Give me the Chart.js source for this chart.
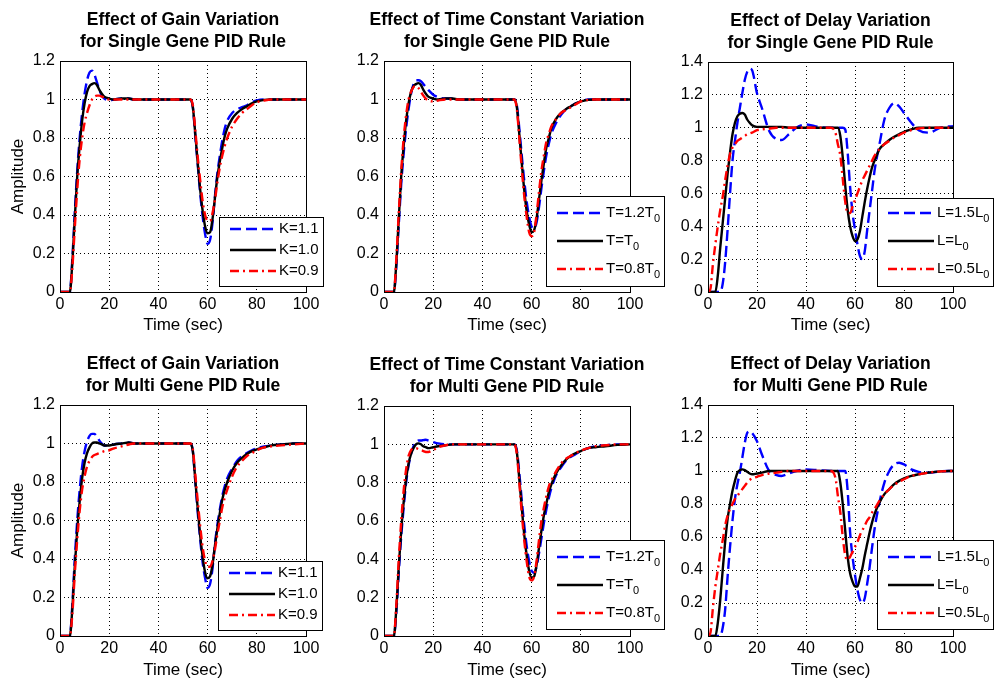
<!DOCTYPE html>
<html>
<head>
<meta charset="utf-8">
<script src="https://cdn.jsdelivr.net/npm/chart.js@4.4.1/dist/chart.umd.min.js"></script>
<style>
  html, body { margin: 0; padding: 0; background: #fff; overflow: hidden; }
  #wrap { position: relative; width: 995px; height: 681px; }
  #wrap canvas { position: absolute; }
</style>
</head>
<body>
<div id="wrap"></div>
<script>
// time base shared by every curve (sec)
const time = [0,1,2,3,4,5,6,7,8,9,10,11,12,13,14,15,16,17,18,20,22,25,28,30,33,36,40,45,50,
  52,53,54,55,56,57,58,59,60,61,62,63,64,65,66,67,68,70,72,74,76,78,80,83,86,90,95,100];

// --- single gene PID rule ---
const gainSingleK11 = [0,0,0,0,0,0.17,0.41,0.63,0.8,0.93,1.03,1.1,1.14,1.15,1.13,1.09,1.05,1.02,1.005,
  0.995,1,1.005,1.005,1,1,1,1,1,1,
  1,1,0.96,0.81,0.66,0.51,0.39,0.3,0.25,0.27,0.36,0.5,0.62,0.71,0.79,0.85,0.89,
  0.93,0.95,0.96,0.97,0.985,0.995,1,1,1,1,1];
const gainSingleK10 = [0,0,0,0,0,0.15,0.38,0.6,0.76,0.89,0.98,1.04,1.07,1.08,1.085,1.075,1.05,1.03,1.015,
  1.005,1,1.005,1.005,1,1,1,1,1,1,
  1,1,0.96,0.82,0.67,0.53,0.42,0.34,0.305,0.31,0.38,0.49,0.6,0.68,0.75,0.81,0.85,
  0.9,0.93,0.95,0.965,0.98,0.99,0.998,1,1,1,1];
const gainSingleK09 = [0,0,0,0,0,0.12,0.33,0.53,0.69,0.8,0.88,0.93,0.97,1,1.015,1.02,1.02,1.015,1.01,
  1,1,1,1,1,1,1,1,1,1,
  1,1,0.97,0.84,0.7,0.58,0.47,0.4,0.37,0.37,0.41,0.48,0.57,0.65,0.71,0.76,0.8,
  0.86,0.9,0.93,0.95,0.97,0.985,0.995,1,1,1,1];

const tcSingleT12 = [0,0,0,0,0,0.13,0.35,0.56,0.72,0.85,0.95,1.03,1.08,1.1,1.1,1.095,1.08,1.065,1.05,
  1.025,1.012,1.005,1.005,1,1,1,1,1,1,
  1,1,0.97,0.85,0.71,0.58,0.47,0.39,0.34,0.33,0.36,0.44,0.54,0.63,0.71,0.77,0.82,
  0.88,0.92,0.95,0.965,0.98,0.99,1,1,1,1,1];
const tcSingleT10 = [0,0,0,0,0,0.15,0.38,0.6,0.76,0.89,0.98,1.04,1.07,1.08,1.085,1.075,1.05,1.03,1.015,
  1.005,1,1.005,1.005,1,1,1,1,1,1,
  1,1,0.96,0.82,0.67,0.53,0.42,0.35,0.31,0.32,0.38,0.48,0.58,0.67,0.75,0.8,0.85,
  0.9,0.93,0.95,0.965,0.98,0.99,0.998,1,1,1,1];
const tcSingleT08 = [0,0,0,0,0,0.17,0.41,0.63,0.8,0.92,1,1.04,1.065,1.07,1.06,1.04,1.02,1.005,0.995,
  0.99,0.995,1,1,1,1,1,1,1,1,
  1,1,0.95,0.8,0.64,0.5,0.39,0.31,0.29,0.31,0.4,0.52,0.63,0.71,0.78,0.82,0.86,
  0.9,0.93,0.945,0.96,0.975,0.99,0.998,1,1,1,1];

const delaySingleL15 = [0,0,0,0,0,0,0.05,0.18,0.38,0.6,0.8,0.92,1.03,1.12,1.21,1.29,1.34,1.36,1.35,
  1.21,1.12,0.98,0.93,0.925,0.96,1,1.02,1.005,1,
  1,1,1,1,0.99,0.85,0.64,0.48,0.38,0.29,0.22,0.2,0.25,0.38,0.5,0.62,0.74,
  0.9,1.05,1.12,1.15,1.13,1.09,1.03,0.985,0.97,1,1.01];
const delaySingleL10 = [0,0,0,0,0.1,0.27,0.42,0.57,0.72,0.85,0.96,1.03,1.07,1.085,1.09,1.08,1.05,1.03,1.015,
  1.005,1.005,1.005,1.005,1.005,1,1,1,1,1,
  1,1,0.95,0.82,0.65,0.5,0.4,0.34,0.31,0.32,0.37,0.46,0.55,0.63,0.7,0.76,0.8,
  0.87,0.9,0.925,0.945,0.96,0.975,0.99,1,1,1,1];
const delaySingleL05 = [0,0.02,0.17,0.29,0.4,0.5,0.58,0.68,0.77,0.84,0.88,0.9,0.92,0.93,0.94,0.95,0.96,0.965,0.97,
  0.985,0.99,0.995,1,1,1,1,1,1,1,
  0.97,0.9,0.83,0.69,0.55,0.48,0.48,0.52,0.56,0.6,0.64,0.68,0.71,0.74,0.77,0.8,0.83,
  0.87,0.9,0.92,0.94,0.955,0.97,0.985,0.995,1,1,1];

// --- multi gene PID rule ---
const gainMultiK11 = [0,0,0,0,0,0.16,0.4,0.6,0.76,0.88,0.96,1.01,1.04,1.05,1.05,1.035,1.015,1,0.99,
  0.99,0.995,1,1.005,1,1,1,1,1,1,
  1,1,0.96,0.8,0.64,0.5,0.38,0.3,0.25,0.27,0.35,0.48,0.58,0.66,0.73,0.78,0.82,
  0.87,0.91,0.935,0.95,0.965,0.975,0.985,0.99,0.995,1,1];
const gainMultiK10 = [0,0,0,0,0,0.14,0.36,0.55,0.7,0.82,0.9,0.95,0.98,1,1.005,1.005,1,0.995,0.99,
  0.99,0.995,1,1.005,1,1,1,1,1,1,
  1,1,0.96,0.81,0.66,0.52,0.41,0.33,0.3,0.31,0.37,0.47,0.56,0.64,0.71,0.76,0.8,
  0.86,0.9,0.925,0.945,0.96,0.97,0.98,0.99,0.995,1,1];
const gainMultiK09 = [0,0,0,0,0,0.11,0.32,0.5,0.65,0.76,0.83,0.88,0.91,0.93,0.94,0.945,0.95,0.955,0.96,
  0.965,0.975,0.985,0.995,1,1,1,1,1,1,
  1,1,0.97,0.84,0.7,0.57,0.46,0.39,0.36,0.36,0.39,0.45,0.53,0.6,0.67,0.72,0.76,
  0.83,0.88,0.91,0.935,0.95,0.965,0.98,0.985,0.99,0.995,1];

const tcMultiT12 = [0,0,0,0,0,0.12,0.33,0.52,0.67,0.8,0.89,0.95,0.99,1.01,1.02,1.02,1.022,1.024,1.02,
  1.012,1.005,1,1,1,1,1,1,1,1,
  1,1,0.97,0.85,0.71,0.58,0.47,0.39,0.34,0.33,0.36,0.43,0.51,0.59,0.66,0.72,0.77,
  0.84,0.88,0.915,0.935,0.95,0.965,0.98,0.99,0.995,1,1];
const tcMultiT10 = [0,0,0,0,0,0.14,0.36,0.55,0.7,0.82,0.9,0.95,0.98,1,1.005,1,0.99,0.985,0.98,
  0.985,0.99,0.995,1,1,1,1,1,1,1,
  1,1,0.96,0.82,0.67,0.53,0.42,0.34,0.305,0.31,0.37,0.46,0.55,0.63,0.69,0.75,0.79,
  0.85,0.89,0.92,0.94,0.955,0.965,0.98,0.985,0.99,0.997,1];
const tcMultiT08 = [0,0,0,0,0,0.16,0.4,0.6,0.76,0.87,0.94,0.97,0.98,0.98,0.975,0.97,0.965,0.96,0.96,
  0.97,0.985,0.995,1,1,1,1,1,1,1,
  1,1,0.95,0.8,0.64,0.5,0.39,0.31,0.29,0.31,0.39,0.5,0.6,0.67,0.73,0.78,0.81,
  0.86,0.9,0.925,0.94,0.955,0.967,0.98,0.99,0.995,1,1];

const delayMultiL15 = [0,0,0,0,0,0,0.05,0.16,0.36,0.54,0.7,0.83,0.92,0.99,1.08,1.17,1.23,1.24,1.23,
  1.18,1.1,1,0.975,0.97,0.985,1,1.01,1.005,1,
  1,1,1,1,1,0.88,0.63,0.48,0.37,0.28,0.22,0.2,0.23,0.32,0.42,0.54,0.65,
  0.81,0.93,1,1.04,1.05,1.04,1.01,0.995,0.99,0.998,1];
const delayMultiL10 = [0,0,0,0,0.08,0.22,0.4,0.57,0.71,0.8,0.88,0.94,0.99,1.005,1.01,1.005,0.995,0.985,0.98,
  0.985,0.99,1,1,1,1,1,1,1,1,
  1,1,0.93,0.8,0.64,0.48,0.38,0.33,0.3,0.3,0.35,0.41,0.49,0.56,0.63,0.69,0.74,
  0.81,0.86,0.89,0.92,0.94,0.955,0.97,0.98,0.99,0.998,1];
const delayMultiL05 = [0,0.02,0.17,0.3,0.4,0.5,0.58,0.67,0.73,0.77,0.8,0.83,0.85,0.87,0.89,0.91,0.93,0.945,0.955,
  0.965,0.975,0.985,0.99,0.995,1,1,1,1,1,
  0.96,0.85,0.75,0.6,0.49,0.46,0.48,0.51,0.54,0.57,0.61,0.64,0.67,0.7,0.72,0.75,0.77,
  0.82,0.86,0.89,0.915,0.935,0.95,0.97,0.98,0.99,0.998,1];

// legend texts ("_" marks a subscript)
const gainLabels = ['K=1.1', 'K=1.0', 'K=0.9'];
const tcLabels = ['T=1.2T_0', 'T=T_0', 'T=0.8T_0'];
const delayLabels = ['L=1.5L_0', 'L=L_0', 'L=0.5L_0'];

const titles = [
  ['Effect of Gain Variation', 'for Single Gene PID Rule'],
  ['Effect of Time Constant Variation', 'for Single Gene PID Rule'],
  ['Effect of Delay Variation', 'for Single Gene PID Rule'],
  ['Effect of Gain Variation', 'for Multi Gene PID Rule'],
  ['Effect of Time Constant Variation', 'for Multi Gene PID Rule'],
  ['Effect of Delay Variation', 'for Multi Gene PID Rule']
];

const xTicks = { min: 0, max: 100, step: 20 };
const yMaxNormal = 1.2;
const yMaxDelay = 1.4;

const FONT = '"Liberation Sans", Arial, Helvetica, sans-serif';
Chart.defaults.font.family = FONT;
Chart.defaults.color = '#000';

// line looks: blue dashed, black solid, red dash-dot
const styles = [
  { borderColor: '#0000ff', borderDash: [11, 5] },
  { borderColor: '#000000', borderDash: [] },
  { borderColor: '#ff0000', borderDash: [9, 4, 2, 4] }
];

// plot areas [left, top, right, bottom] in page pixels
const panels = [
  { area: [60, 61, 306, 292], yMax: yMaxNormal, series: [gainSingleK11, gainSingleK10, gainSingleK09], labels: gainLabels, title: titles[0], yTitle: 'Amplitude', xPad: 1,
    legend: { right: 17, bottom: -6, height: 69, first: 12, gap: 21 } },
  { area: [384, 61, 630, 292], yMax: yMaxNormal, series: [tcSingleT12, tcSingleT10, tcSingleT08], labels: tcLabels, title: titles[1], yTitle: '', xPad: 1,
    legend: { right: 34, bottom: -6, height: 90, first: 17, gap: 28 } },
  { area: [708, 62, 953, 292], yMax: yMaxDelay, series: [delaySingleL15, delaySingleL10, delaySingleL05], labels: delayLabels, title: titles[2], yTitle: '', xPad: 1,
    legend: { right: 40, bottom: -6, height: 88, first: 15, gap: 28 } },
  { area: [60, 405, 306, 636], yMax: yMaxNormal, series: [gainMultiK11, gainMultiK10, gainMultiK09], labels: gainLabels, title: titles[3], yTitle: 'Amplitude', xPad: 0,
    legend: { right: 16, bottom: -6, height: 69, first: 12, gap: 21 } },
  { area: [384, 406, 630, 636], yMax: yMaxNormal, series: [tcMultiT12, tcMultiT10, tcMultiT08], labels: tcLabels, title: titles[4], yTitle: '', xPad: 0,
    legend: { right: 34, bottom: -7, height: 89, first: 17, gap: 28 } },
  { area: [708, 405, 953, 636], yMax: yMaxDelay, series: [delayMultiL15, delayMultiL10, delayMultiL05], labels: delayLabels, title: titles[5], yTitle: '', xPad: 0,
    legend: { right: 40, bottom: -7, height: 89, first: 17, gap: 28 } }
];

const Y_AXIS_W = 60, X_AXIS_H = 45, PAD_TOP = 61, PAD_RIGHT = 42;

// frame, title and the boxed legend drawn like the matlab figure
const matlabDecor = {
  id: 'matlabDecor',
  afterDatasetsDraw(chart, args, opts) {
    const ctx = chart.ctx, a = chart.chartArea;
    ctx.save();
    ctx.setLineDash([]);
    ctx.strokeStyle = '#000';
    ctx.lineWidth = 1;
    ctx.strokeRect(Math.round(a.left) + 0.5, Math.round(a.top) + 0.5,
      Math.round(a.right - a.left), Math.round(a.bottom - a.top));

    // title, two lines
    ctx.fillStyle = '#000';
    ctx.font = 'bold 17.5px ' + FONT;
    ctx.textAlign = 'center';
    ctx.textBaseline = 'middle';
    const cx = (a.left + a.right) / 2;
    opts.title.forEach((line, i) => ctx.fillText(line, cx, a.top - 41 + i * 22));

    // legend box
    const lg = opts.legend;
    const mainFont = '15px ' + FONT, subFont = '11px ' + FONT;
    const parts = chart.data.datasets.map(d => d.label.split('_'));
    const widths = parts.map(p => {
      ctx.font = mainFont;
      let w = ctx.measureText(p[0]).width;
      if (p[1]) { ctx.font = subFont; w += ctx.measureText(p[1]).width; }
      return w;
    });
    const boxW = Math.round(11 + 46 + 3 + Math.max(...widths) + 4);
    const x1 = Math.round(a.right + lg.right), y1 = Math.round(a.bottom + lg.bottom);
    const x0 = x1 - boxW, y0 = y1 - lg.height;
    ctx.fillStyle = '#fff';
    ctx.fillRect(x0, y0, boxW, lg.height);
    ctx.strokeRect(x0 + 0.5, y0 + 0.5, boxW, lg.height);
    chart.data.datasets.forEach((d, i) => {
      const y = y0 + lg.first + i * lg.gap;
      ctx.strokeStyle = d.borderColor;
      ctx.lineWidth = d.borderWidth;
      ctx.setLineDash(d.borderDash);
      ctx.beginPath();
      ctx.moveTo(x0 + 11, y);
      ctx.lineTo(x0 + 57, y);
      ctx.stroke();
      ctx.setLineDash([]);
      ctx.fillStyle = '#000';
      ctx.textAlign = 'left';
      ctx.textBaseline = 'middle';
      ctx.font = mainFont;
      ctx.fillText(parts[i][0], x0 + 60, y);
      if (parts[i][1]) {
        const w0 = ctx.measureText(parts[i][0]).width;
        ctx.font = subFont;
        ctx.fillText(parts[i][1], x0 + 60 + w0, y + 6);
      }
    });
    ctx.restore();
  }
};

const wrap = document.getElementById('wrap');

panels.forEach(p => {
  const [L, T, R, B] = p.area;
  const cv = document.createElement('canvas');
  cv.width = (R - L) + Y_AXIS_W + PAD_RIGHT;
  cv.height = (B - T) + PAD_TOP + X_AXIS_H;
  cv.style.left = (L - Y_AXIS_W) + 'px';
  cv.style.top = (T - PAD_TOP) + 'px';
  cv.style.width = cv.width + 'px';
  cv.style.height = cv.height + 'px';
  wrap.appendChild(cv);

  const tickFont = { size: 16, family: FONT };
  const labelFont = { size: 17, family: FONT };

  new Chart(cv.getContext('2d'), {
    type: 'line',
    data: {
      labels: time,
      datasets: p.series.map((s, i) => ({
        label: p.labels[i],
        data: s,
        borderColor: styles[i].borderColor,
        borderDash: styles[i].borderDash,
        borderWidth: 2.4,
        pointRadius: 0,
        fill: false,
        cubicInterpolationMode: 'monotone',
        order: 3 - i
      }))
    },
    options: {
      responsive: false,
      animation: false,
      events: [],
      layout: { padding: { left: 0, top: PAD_TOP, right: PAD_RIGHT, bottom: 0 } },
      scales: {
        x: {
          type: 'linear',
          min: xTicks.min,
          max: xTicks.max,
          ticks: { stepSize: xTicks.step, padding: 3, font: tickFont, color: '#000', maxRotation: 0 },
          grid: { color: '#000', lineWidth: 1, drawTicks: false },
          border: { display: false, dash: [1, 3] },
          title: { display: true, text: 'Time (sec)', font: labelFont, color: '#000', padding: { top: 0, bottom: p.xPad } },
          afterFit: s => { s.height = X_AXIS_H; }
        },
        y: {
          min: 0,
          max: p.yMax,
          ticks: { stepSize: 0.2, padding: 5, font: tickFont, color: '#000',
            callback: v => String(+v.toFixed(1)) },
          grid: { color: '#000', lineWidth: 1, drawTicks: false },
          border: { display: false, dash: [1, 3] },
          title: { display: !!p.yTitle, text: p.yTitle, font: labelFont, color: '#000', padding: { top: 8, bottom: 0 } },
          afterFit: s => { s.width = Y_AXIS_W; }
        }
      },
      plugins: {
        legend: { display: false },
        tooltip: { enabled: false },
        matlabDecor: { title: p.title, legend: p.legend }
      }
    },
    plugins: [matlabDecor]
  });
});
</script>
</body>
</html>
